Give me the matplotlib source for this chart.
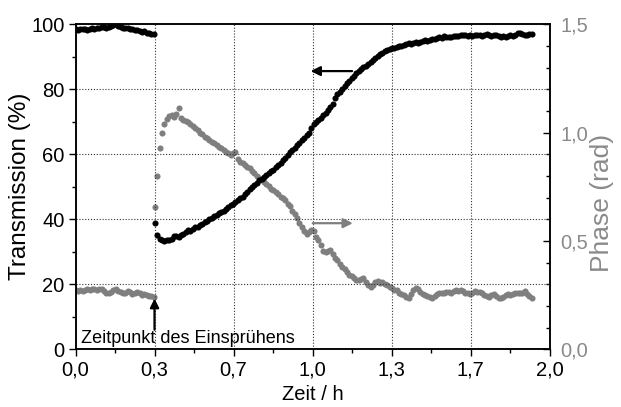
import numpy as np
import matplotlib
matplotlib.use("Agg")
import matplotlib.pyplot as plt
from matplotlib.ticker import FixedLocator, MultipleLocator, FuncFormatter

plt.rcParams['font.family'] = ['Liberation Sans', 'DejaVu Sans']

# ---------------- data ----------------
# time before spraying (h)
t_before = np.round(np.arange(0.0, 0.335, 0.01), 3)
# time after spraying (h)
t_after = np.round(np.arange(0.335, 1.93, 0.01), 3)

trans_before = [98.6, 98.2, 98.5, 98.4, 98.7, 98.3, 98.6, 98.9, 98.7, 99.0,
                98.8, 99.1, 99.3, 98.9, 99.2, 99.4, 99.7, 100.0, 99.5, 99.2,
                99.0, 98.8, 98.9, 98.5, 98.4, 98.2, 98.3, 97.9, 97.7, 97.8,
                97.4, 97.2, 97.0, 96.9]

trans_after = [38.8, 35.2, 34.0, 33.5, 33.4, 33.6, 33.5, 34.0, 34.8, 35.0,
               34.7, 35.1, 35.6, 36.0, 36.6, 36.4, 37.0, 37.5, 37.6, 38.2,
               38.6, 39.1, 39.5, 40.2, 40.5, 41.0, 41.2, 41.8, 42.3, 42.6,
               43.2, 43.7, 44.3, 44.8, 45.3, 45.9, 46.5, 47.0, 47.8, 48.5,
               49.4, 49.9, 50.6, 51.2, 52.0, 52.5, 53.1, 53.6, 54.2, 54.8,
               55.3, 56.0, 56.7, 57.4, 58.2, 59.0, 59.8, 60.6, 61.4, 62.0,
               62.8, 63.5, 64.3, 65.1, 65.8, 66.7, 68.2, 69.4, 70.0, 70.6,
               71.2, 72.0, 72.8, 73.6, 74.4, 75.6, 77.2, 78.4, 79.3, 80.2,
               81.0, 81.9, 82.6, 83.4, 84.0, 84.9, 85.6, 86.3, 86.8, 87.3,
               87.8, 88.3, 89.1, 89.6, 90.2, 90.8, 91.3, 91.7, 92.0, 92.4,
               92.6, 92.8, 93.0, 93.3, 93.2, 93.6, 93.8, 94.2, 94.0, 94.1,
               94.5, 94.3, 94.6, 94.9, 95.2, 95.0, 95.3, 95.6, 95.5, 95.8,
               96.0, 95.9, 96.3, 96.1, 96.2, 96.0, 96.4, 96.5, 96.3, 96.6,
               96.8, 96.6, 96.5, 96.7, 96.5, 96.6, 96.8, 96.6, 96.5, 96.7,
               96.9, 96.6, 96.4, 96.6, 96.8, 96.5, 96.2, 96.3, 96.1, 96.4,
               96.6, 96.5, 96.8, 97.2, 97.4, 97.1, 96.8, 96.6, 96.9, 97.1]

phase_before = [0.272, 0.268, 0.275, 0.270, 0.273, 0.278, 0.274, 0.276, 0.279, 0.275,
                0.280, 0.277, 0.268, 0.262, 0.258, 0.266, 0.272, 0.276, 0.270, 0.264,
                0.258, 0.262, 0.270, 0.266, 0.255, 0.260, 0.264, 0.258, 0.252, 0.256,
                0.250, 0.246, 0.248, 0.243]

phase_after = [0.658, 0.800, 0.930, 1.000, 1.040, 1.062, 1.075, 1.080, 1.072, 1.085,
               1.115, 1.066, 1.060, 1.052, 1.048, 1.038, 1.030, 1.022, 1.012, 1.000,
               0.995, 0.982, 0.975, 0.965, 0.958, 0.950, 0.944, 0.935, 0.928, 0.920,
               0.912, 0.905, 0.898, 0.905, 0.912, 0.880, 0.866, 0.858, 0.850, 0.842,
               0.835, 0.822, 0.812, 0.800, 0.790, 0.782, 0.770, 0.762, 0.752, 0.742,
               0.735, 0.725, 0.715, 0.705, 0.697, 0.688, 0.672, 0.660, 0.640, 0.625,
               0.605, 0.583, 0.565, 0.548, 0.530, 0.540, 0.552, 0.545, 0.520, 0.504,
               0.480, 0.452, 0.448, 0.455, 0.458, 0.440, 0.420, 0.410, 0.395, 0.378,
               0.370, 0.356, 0.345, 0.338, 0.330, 0.320, 0.322, 0.326, 0.330, 0.310,
               0.295, 0.288, 0.298, 0.310, 0.315, 0.308, 0.312, 0.302, 0.295, 0.288,
               0.282, 0.275, 0.272, 0.262, 0.255, 0.250, 0.240, 0.235, 0.255, 0.272,
               0.282, 0.276, 0.265, 0.255, 0.250, 0.248, 0.240, 0.236, 0.245, 0.255,
               0.258, 0.262, 0.258, 0.264, 0.266, 0.262, 0.270, 0.272, 0.268, 0.274,
               0.270, 0.262, 0.258, 0.256, 0.262, 0.268, 0.265, 0.266, 0.260, 0.252,
               0.248, 0.243, 0.250, 0.255, 0.245, 0.238, 0.235, 0.242, 0.250, 0.254,
               0.250, 0.255, 0.258, 0.262, 0.258, 0.262, 0.268, 0.255, 0.245, 0.235]

x_ticks = [0, 1/3, 2/3, 1.0, 4/3, 5/3, 2.0]
x_ticklabels = ["0,0", "0,3", "0,7", "1,0", "1,3", "1,7", "2,0"]
spray_time = 1/3

black = "#000000"
gray = "#7f7f7f"
gray_txt = "#8a8a8a"

# ---------------- figure ----------------
fig = plt.figure(figsize=(6.21, 4.07), dpi=100)
ax = fig.add_axes([0.1216, 0.1418, 0.7633, 0.7985])
ax2 = ax.twinx()

ax.set_xlim(0, 2.0)
ax.set_ylim(0, 100)
ax2.set_ylim(0, 1.5)

ms = 4.4
ax2.plot(t_before, phase_before, 'o', color=gray, ms=ms, mec='none', zorder=2)
ax2.plot(t_after, phase_after, 'o', color=gray, ms=ms, mec='none', zorder=2)
ax.plot(t_before, trans_before, 'o', color=black, ms=ms, mec='none', zorder=3)
ax.plot(t_after, trans_after, 'o', color=black, ms=ms, mec='none', zorder=3)

# put the left axis (black data) above the twin
ax.set_zorder(ax2.get_zorder() + 1)
ax.patch.set_visible(False)

# grid
ax.xaxis.set_major_locator(FixedLocator(x_ticks))
ax.set_xticklabels(x_ticklabels)
ax.xaxis.set_minor_locator(FixedLocator([1/6, 1/2, 5/6, 7/6, 3/2, 11/6]))
ax.yaxis.set_major_locator(MultipleLocator(20))
ax.yaxis.set_minor_locator(MultipleLocator(10))
ax.grid(True, which='major', color='#333333', linestyle=(0, (1, 1.6)), linewidth=0.8)

ax.tick_params(axis='both', which='major', direction='out', length=5, width=1.0,
               labelsize=14.5, pad=3)
ax.tick_params(axis='both', which='minor', direction='out', length=3, width=1.0)

ax2.yaxis.set_major_locator(MultipleLocator(0.5))
ax2.yaxis.set_minor_locator(MultipleLocator(0.1))
ax2.yaxis.set_major_formatter(FuncFormatter(lambda v, p: f"{v:.1f}".replace('.', ',')))
ax2.tick_params(axis='y', which='major', direction='in', length=5, width=1.0,
                labelsize=14.5, labelcolor=gray_txt, pad=8)
ax2.tick_params(axis='y', which='minor', direction='in', length=3, width=1.0)

for sp in ax.spines.values():
    sp.set_linewidth(1.1)
for sp in ax2.spines.values():
    sp.set_linewidth(1.1)

ax.set_xlabel("Zeit / h", fontsize=14.5, labelpad=4)
ax.set_ylabel("Transmission (%)", fontsize=17.5)
ax.yaxis.set_label_coords(-0.094, 0.5)
ax2.set_ylabel("Phase (rad)", fontsize=19)
ax2.yaxis.label.set_color(gray_txt)
ax2.yaxis.set_label_coords(1.085, 0.45)

# direction arrows
ax.annotate("", xy=(0.992, 85.6), xytext=(1.167, 85.6),
            arrowprops=dict(arrowstyle='-|>', color=black, lw=1.6,
                            mutation_scale=14, shrinkA=0, shrinkB=0))
ax.annotate("", xy=(1.17, 38.8), xytext=(1.001, 38.8),
            arrowprops=dict(arrowstyle='-|>', color=gray, lw=1.6,
                            mutation_scale=14, shrinkA=0, shrinkB=0))

# spray marker
ax.annotate("", xy=(spray_time, 15.6), xytext=(spray_time, 6.0),
            arrowprops=dict(arrowstyle='-|>', color=black, lw=1.6,
                            mutation_scale=13, shrinkA=0, shrinkB=0))
ax.text(0.022, 1.9, "Zeitpunkt des Einsprühens", fontsize=13, ha='left',
        va='baseline', color=black)

fig.savefig("out.png", dpi=100)
